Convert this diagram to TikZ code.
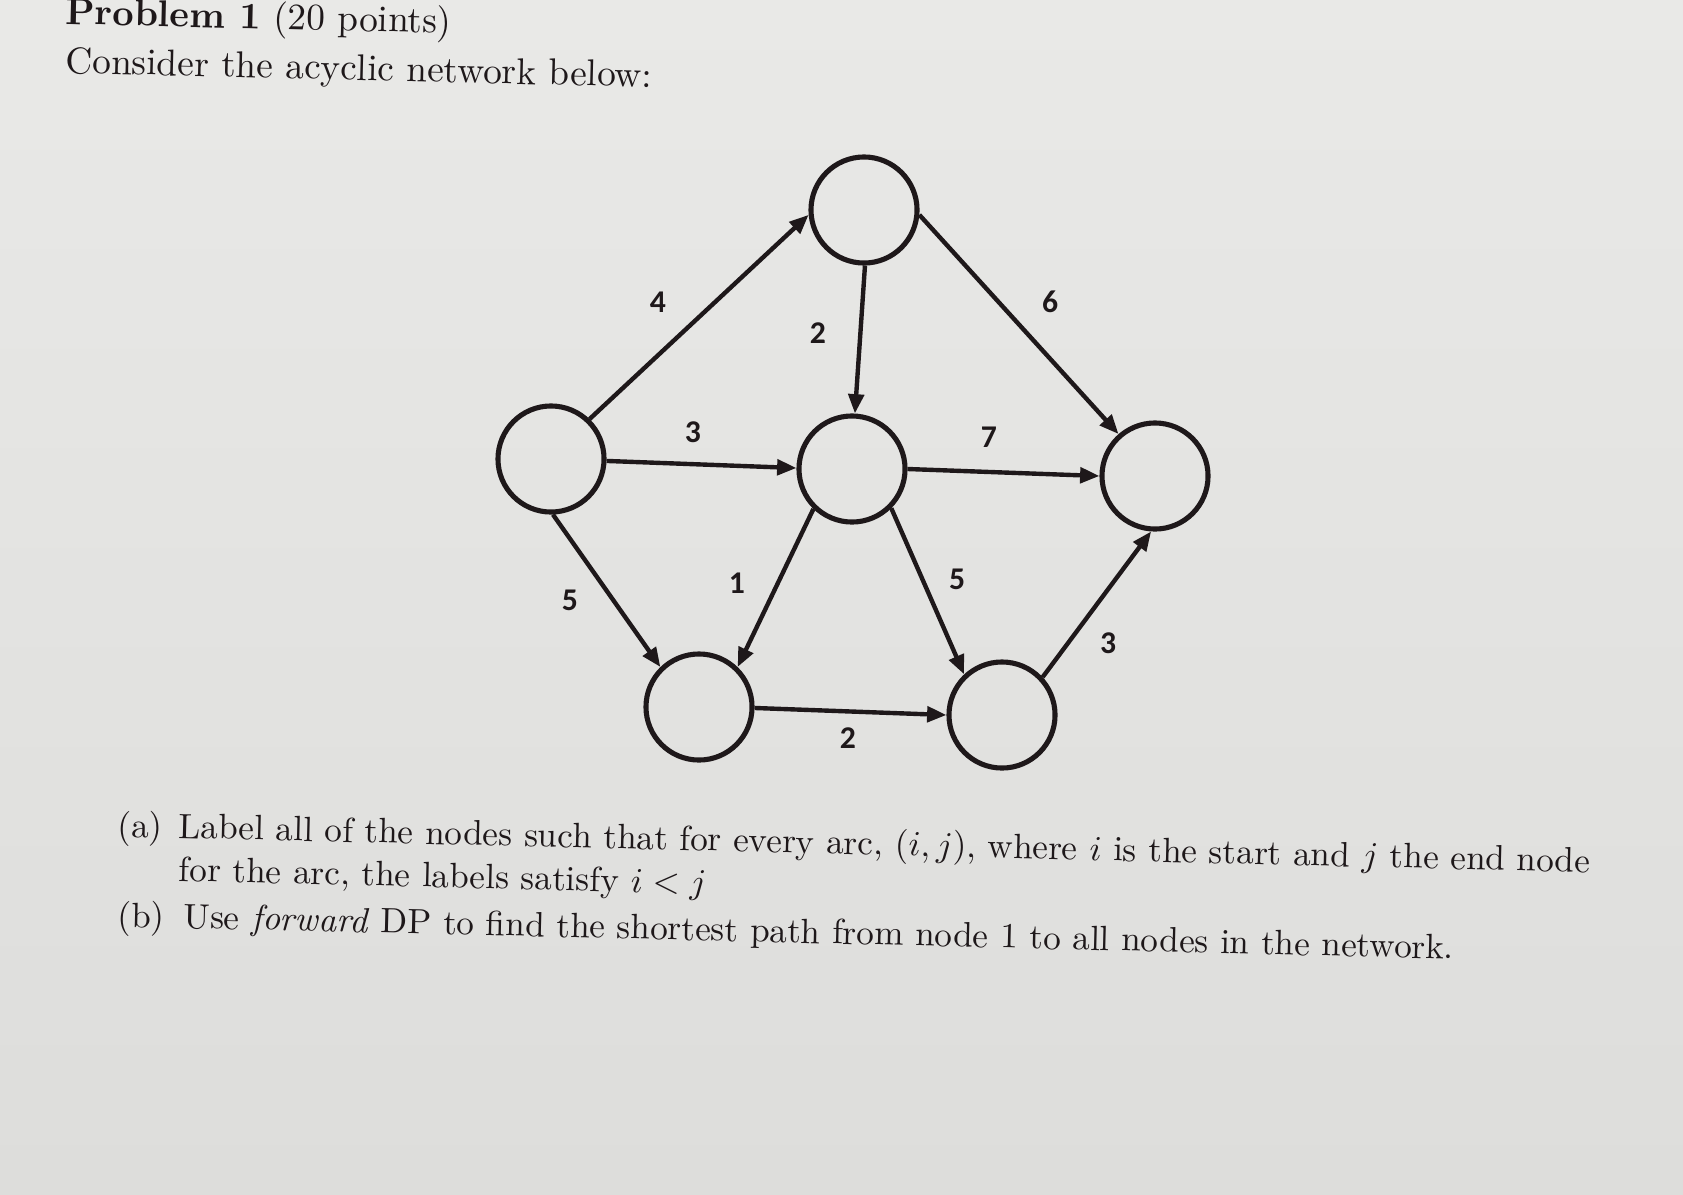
\documentclass[tikz,border=0pt]{standalone}
\usepackage{fontspec}
\usepackage{amsmath,amssymb}
\newfontfamily\wfont{Carlito}
\usetikzlibrary{arrows.meta,shapes}
\definecolor{ink}{RGB}{30,24,26}
\definecolor{paper}{RGB}{233,233,231}
\definecolor{paperdk}{RGB}{221,221,219}

\begin{document}
\begin{tikzpicture}[x=0.01cm,y=-0.01cm,
  vert/.style={circle,draw=ink,line width=1.45pt,minimum size=1.06cm,inner sep=0pt},
  arc/.style={draw=ink,line width=1.25pt,-{Triangle[length=5.5pt,width=4.4pt]}},
  wt/.style={font={\wfont\bfseries\fontsize{9}{10}\selectfont},text=ink,inner sep=0pt},
  ln/.style={anchor=base west,rotate=-1.4,inner sep=0pt,text=ink,font={\fontsize{10.6}{13}\selectfont}},
  item/.style={ln,font={\fontsize{10}{12}\selectfont}}]
\shade[top color=paper,bottom color=paperdk] (0,0) rectangle (1683,1194);
\useasboundingbox (0,0) rectangle (1683,1194);

\node[ln] (title) at (65,24) {\textbf{Problem 1} (20 points)};
\node[ln] (intro) at (65,73) {Consider the acyclic network below:};

\node[vert] (L) at (551,459) {};
\node[vert] (T) at (864,210) {};
\node[vert] (C) at (852,469) {};
\node[vert] (R) at (1155,476) {};
\node[vert] (BL) at (699,707) {};
\node[vert] (BR) at (1002,715) {};

\draw[arc] (L.46) -- (T.185);
\draw[arc] (T.271) -- (C.87);
\draw[arc] (T.355) -- (R.131);
\draw[arc] (L.358) -- (C.179);
\draw[arc] (C.0) -- (R.180);
\draw[arc] (L.272) -- (BL.134);
\draw[arc] (C.226) -- (BL.46);
\draw[arc] (C.315) -- (BR.133);
\draw[arc] (BL.359) -- (BR.180);
\draw[arc] (BR.43) -- (R.266);

\node[wt] (wLT) at (658,302) {4};
\node[wt] (wTC) at (818,333) {2};
\node[wt] (wTR) at (1050,302) {6};
\node[wt] (wLC) at (693,432) {3};
\node[wt] (wCR) at (989,437) {7};
\node[wt] (wCBL) at (737,583) {1};
\node[wt] (wLBL) at (570,600) {5};
\node[wt] (wCBR) at (957,579) {5};
\node[wt] (wBLBR) at (848,738) {2};
\node[wt] (wBRR) at (1108,643) {3};

\node[item] (qa) at (117,837) {(a)};
\node[item] (qa1) at (178,838) {Label all of the nodes such that for every arc, $(i,j)$, where $i$ is the start and $j$ the end node};
\node[item] (qa2) at (178,881) {for the arc, the labels satisfy $i<j$};
\node[item] (qb) at (117,927) {(b)};
\node[item] (qb1) at (183,928) {Use \emph{forward} DP to find the shortest path from node 1 to all nodes in the network.};
\end{tikzpicture}
\end{document}
